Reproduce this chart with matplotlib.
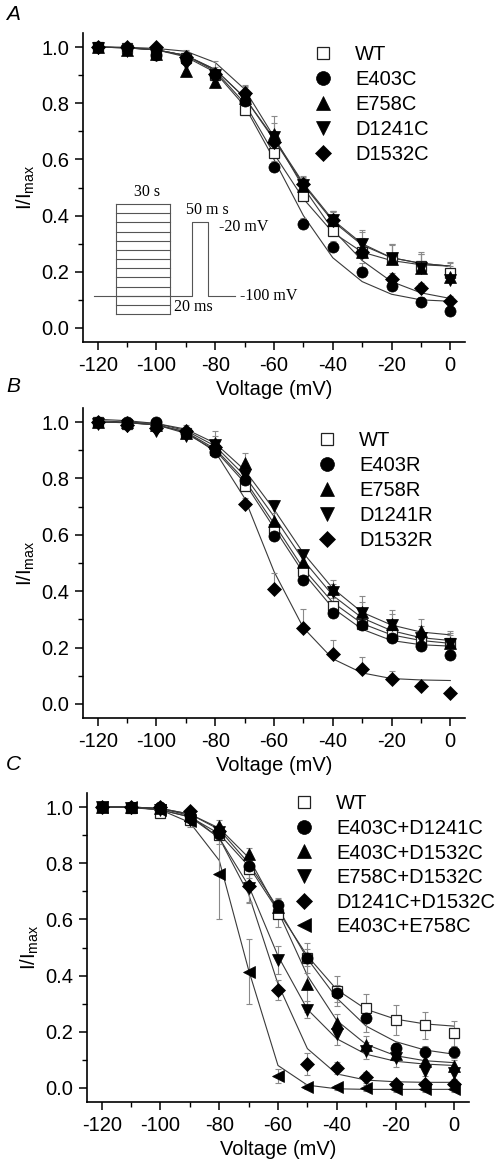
import numpy as np
import matplotlib
matplotlib.use("Agg")
import matplotlib.pyplot as plt
from matplotlib.ticker import MultipleLocator
from matplotlib.lines import Line2D

plt.rcParams['font.family'] = ['Liberation Sans', 'DejaVu Sans']
plt.rcParams['axes.unicode_minus'] = False

# ---------------- data ----------------
voltage = [-120, -110, -100, -90, -80, -70, -60, -50, -40, -30, -20, -10, 0]

# Panel A
a_labels = ["WT", "E403C", "E758C", "D1241C", "D1532C"]
a_wt = [1.0, 0.995, 0.98, 0.96, 0.90, 0.775, 0.622, 0.468, 0.346, 0.27, 0.25, 0.222, 0.195]
a_e403c = [1.0, 0.995, 0.97, 0.955, 0.90, 0.808, 0.573, 0.37, 0.289, 0.20, 0.148, 0.091, 0.059]
a_e758c = [1.0, 0.99, 0.975, 0.915, 0.877, 0.82, 0.69, 0.506, 0.384, 0.27, 0.245, 0.215, 0.18]
a_d1241c = [0.995, 0.985, 0.97, 0.94, 0.90, 0.815, 0.68, 0.51, 0.385, 0.30, 0.25, 0.215, 0.17]
a_d1532c = [1.0, 1.0, 1.0, 0.965, 0.903, 0.838, 0.662, 0.514, 0.385, 0.27, 0.174, 0.141, 0.095]
a_err_wt = [0.005, 0.005, 0.01, 0.03, 0.05, 0.03, 0.04, 0.06, 0.07, 0.07, 0.05, 0.05, 0.04]
a_err_e403c = [0.005, 0.01, 0.01, 0.02, 0.02, 0.02, 0.02, 0.02, 0.02, 0.03, 0.02, 0.02, 0.02]
a_err_e758c = [0.01, 0.01, 0.01, 0.02, 0.03, 0.04, 0.065, 0.03, 0.03, 0.05, 0.05, 0.05, 0.05]
a_err_d1241c = [0.01, 0.01, 0.01, 0.02, 0.03, 0.05, 0.05, 0.03, 0.03, 0.05, 0.05, 0.05, 0.05]
a_err_d1532c = [0.005, 0.005, 0.005, 0.02, 0.02, 0.02, 0.04, 0.02, 0.03, 0.03, 0.02, 0.02, 0.02]
a_fit_wt = [1.0, 0.998, 0.99, 0.97, 0.915, 0.80, 0.62, 0.46, 0.34, 0.27, 0.24, 0.225, 0.22]
a_fit_e403c = [1.0, 0.997, 0.99, 0.965, 0.91, 0.79, 0.60, 0.40, 0.25, 0.165, 0.12, 0.10, 0.095]
a_fit_e758c = [1.0, 0.997, 0.99, 0.97, 0.92, 0.82, 0.67, 0.51, 0.38, 0.295, 0.25, 0.23, 0.22]
a_fit_d1241c = [1.0, 0.997, 0.99, 0.97, 0.92, 0.82, 0.675, 0.515, 0.385, 0.30, 0.25, 0.23, 0.22]
a_fit_d1532c = [1.0, 0.999, 0.995, 0.985, 0.945, 0.85, 0.68, 0.50, 0.35, 0.24, 0.165, 0.125, 0.105]

# Panel B
b_labels = ["WT", "E403R", "E758R", "D1241R", "D1532R"]
b_wt = [1.0, 0.995, 0.99, 0.96, 0.90, 0.773, 0.619, 0.471, 0.347, 0.285, 0.245, 0.22, 0.215]
b_e403r = [1.0, 1.0, 1.0, 0.96, 0.895, 0.793, 0.595, 0.441, 0.323, 0.279, 0.234, 0.205, 0.173]
b_e758r = [1.0, 1.0, 0.99, 0.96, 0.927, 0.856, 0.649, 0.503, 0.406, 0.325, 0.284, 0.258, 0.217]
b_d1241r = [0.995, 0.985, 0.97, 0.95, 0.92, 0.814, 0.702, 0.527, 0.396, 0.323, 0.279, 0.235, 0.213]
b_d1532r = [1.0, 0.99, 0.98, 0.968, 0.91, 0.711, 0.406, 0.27, 0.178, 0.125, 0.09, 0.063, 0.039]
b_err_wt = [0.005, 0.01, 0.01, 0.02, 0.02, 0.02, 0.03, 0.03, 0.03, 0.03, 0.03, 0.03, 0.03]
b_err_e403r = [0.005, 0.005, 0.01, 0.01, 0.02, 0.02, 0.02, 0.02, 0.02, 0.02, 0.02, 0.02, 0.02]
b_err_e758r = [0.01, 0.01, 0.01, 0.02, 0.04, 0.035, 0.03, 0.03, 0.035, 0.057, 0.05, 0.044, 0.04]
b_err_d1241r = [0.01, 0.01, 0.01, 0.02, 0.03, 0.03, 0.02, 0.02, 0.03, 0.04, 0.04, 0.04, 0.04]
b_err_d1532r = [0.005, 0.01, 0.01, 0.02, 0.02, 0.02, 0.057, 0.068, 0.05, 0.041, 0.026, 0.01, 0.0]
b_fit_wt = [1.0, 0.999, 0.99, 0.965, 0.905, 0.795, 0.64, 0.48, 0.36, 0.285, 0.245, 0.225, 0.215]
b_fit_e403r = [1.0, 0.998, 0.99, 0.96, 0.90, 0.785, 0.625, 0.465, 0.34, 0.265, 0.225, 0.21, 0.205]
b_fit_e758r = [1.005, 1.0, 0.995, 0.97, 0.915, 0.81, 0.665, 0.51, 0.385, 0.305, 0.26, 0.235, 0.225]
b_fit_d1241r = [1.01, 1.005, 0.995, 0.975, 0.925, 0.83, 0.69, 0.535, 0.41, 0.325, 0.28, 0.255, 0.245]
b_fit_d1532r = [1.0, 0.998, 0.99, 0.965, 0.895, 0.73, 0.47, 0.27, 0.16, 0.11, 0.09, 0.085, 0.083]

# Panel C
c_labels = ["WT", "E403C+D1241C", "E403C+D1532C", "E758C+D1532C", "D1241C+D1532C", "E403C+E758C"]
c_wt = [1.0, 0.995, 0.979, 0.955, 0.90, 0.778, 0.618, 0.464, 0.346, 0.284, 0.243, 0.224, 0.194]
c_e403c_d1241c = [1.0, 1.0, 1.0, 0.97, 0.905, 0.789, 0.653, 0.464, 0.337, 0.249, 0.141, 0.129, 0.127]
c_e403c_d1532c = [1.0, 1.0, 0.995, 0.97, 0.934, 0.833, 0.645, 0.369, 0.233, 0.154, 0.12, 0.097, 0.079]
c_e758c_d1532c = [1.0, 0.995, 0.99, 0.955, 0.91, 0.712, 0.454, 0.278, 0.192, 0.133, 0.105, 0.062, 0.053]
c_d1241c_d1532c = [1.0, 1.0, 1.0, 0.987, 0.915, 0.718, 0.348, 0.085, 0.071, 0.038, 0.014, 0.014, 0.014]
c_e403c_e758c = [1.0, 1.0, 0.99, 0.95, 0.763, 0.414, 0.044, 0.005, 0.002, 0.0, -0.003, -0.004, -0.005]
c_err_wt = [0.005, 0.01, 0.01, 0.02, 0.03, 0.03, 0.045, 0.053, 0.053, 0.052, 0.053, 0.048, 0.043]
c_err_e403c_d1241c = [0.005, 0.005, 0.005, 0.02, 0.02, 0.02, 0.02, 0.03, 0.03, 0.05, 0.02, 0.02, 0.02]
c_err_e403c_d1532c = [0.005, 0.005, 0.005, 0.02, 0.02, 0.02, 0.03, 0.10, 0.03, 0.03, 0.02, 0.02, 0.02]
c_err_e758c_d1532c = [0.005, 0.005, 0.005, 0.02, 0.02, 0.05, 0.05, 0.03, 0.04, 0.03, 0.03, 0.02, 0.02]
c_err_d1241c_d1532c = [0.005, 0.005, 0.005, 0.01, 0.02, 0.06, 0.035, 0.04, 0.02, 0.02, 0.01, 0.01, 0.01]
c_err_e403c_e758c = [0.005, 0.005, 0.005, 0.02, 0.16, 0.116, 0.025, 0.01, 0.01, 0.01, 0.01, 0.01, 0.01]
c_fit_wt = [1.0, 0.998, 0.99, 0.965, 0.905, 0.79, 0.63, 0.47, 0.35, 0.28, 0.245, 0.228, 0.22]
c_fit_e403c_d1241c = [1.0, 1.0, 0.995, 0.975, 0.92, 0.80, 0.64, 0.46, 0.32, 0.22, 0.165, 0.135, 0.12]
c_fit_e403c_d1532c = [1.0, 1.0, 0.995, 0.975, 0.925, 0.82, 0.63, 0.40, 0.24, 0.155, 0.115, 0.097, 0.09]
c_fit_e758c_d1532c = [1.0, 1.0, 0.99, 0.965, 0.89, 0.72, 0.47, 0.28, 0.175, 0.12, 0.095, 0.085, 0.08]
c_fit_d1241c_d1532c = [1.0, 1.0, 0.995, 0.97, 0.89, 0.69, 0.37, 0.14, 0.05, 0.028, 0.022, 0.02, 0.02]
c_fit_e403c_e758c = [1.0, 1.0, 0.99, 0.945, 0.81, 0.42, 0.08, 0.01, -0.003, -0.005, -0.005, -0.005, -0.005]

x_ticks = [-120, -100, -80, -60, -40, -20, 0]
y_ticks = [0.0, 0.2, 0.4, 0.6, 0.8, 1.0]

# inset protocol schematic (axes fractions of panel A)
proto_box_x = [0.0864, 0.2277]
proto_box_levels = np.linspace(0.0906, 0.4466, 13)
proto_trace_x = [0.0288, 0.285, 0.285, 0.327, 0.327, 0.398]
proto_trace_y = [0.1489, 0.1489, 0.388, 0.388, 0.1489, 0.1489]

# ---------------- styling ----------------
MS = {'s': 7, 'o': 8, '^': 9, 'v': 9, 'D': 6.8, '<': 9}
MS_LEG = {'s': 8.5, 'o': 10, '^': 10.5, 'v': 10.5, 'D': 8, '<': 10.5}
FIT_COLOR = '#3a3a3a'
ERR_COLOR = '#8a8a8a'
FS = 14.5

fig = plt.figure(figsize=(4.96, 11.62), dpi=100)


def style_axes(ax):
    ax.set_xlim(-125, 5)
    ax.set_ylim(-0.05, 1.05)
    ax.spines['top'].set_visible(False)
    ax.spines['right'].set_visible(False)
    for s in ('left', 'bottom'):
        ax.spines[s].set_linewidth(1.2)
    ax.set_xticks(x_ticks)
    ax.set_yticks(y_ticks)
    ax.set_yticklabels([f"{v:.1f}" for v in y_ticks])
    ax.xaxis.set_minor_locator(MultipleLocator(10))
    ax.yaxis.set_minor_locator(MultipleLocator(0.1))
    ax.tick_params(which='major', direction='out', length=6, width=1.1, labelsize=FS, pad=4)
    ax.tick_params(which='minor', direction='out', length=3.5, width=1.0)
    ax.set_xlabel("Voltage (mV)", fontsize=FS, labelpad=4)
    ax.set_ylabel(r"I/I$_{\mathregular{max}}$", fontsize=FS, labelpad=3)


def draw_panel(ax, series, errs, fits, labels, markers, symmetric, loc_anchor, spacing):
    for fit in fits:
        ax.plot(voltage, fit, color=FIT_COLOR, lw=0.8, zorder=2)
    handles = []
    for y, e in zip(series, errs):
        e = np.array(e)
        lower = e if symmetric else np.zeros_like(e)
        ax.errorbar(voltage, y, yerr=[lower, e], fmt='none', ecolor=ERR_COLOR,
                    elinewidth=0.8, capsize=2.5, capthick=0.8, zorder=3)
    for y, m in zip(series, markers):
        if m == 's':
            ax.plot(voltage, y, ls='none', marker=m, ms=MS[m], mfc='white',
                    mec='#222222', mew=0.9, zorder=4)
            h = Line2D([], [], ls='none', marker=m, ms=MS_LEG[m], mfc='white', mec='#222222', mew=0.9)
        else:
            ax.plot(voltage, y, ls='none', marker=m, ms=MS[m], mfc='black',
                    mec='black', mew=0.5, zorder=5)
            h = Line2D([], [], ls='none', marker=m, ms=MS_LEG[m], mfc='black', mec='black', mew=0.5)
        handles.append(h)
    ax.legend(handles, labels, loc='upper left', bbox_to_anchor=loc_anchor,
              frameon=False, fontsize=FS, handlelength=1.0, handletextpad=1.1,
              labelspacing=spacing, borderpad=0, borderaxespad=0)


# Panel A
axA = fig.add_axes([83 / 496, 1 - 342 / 1162, 382 / 496, 309 / 1162])
style_axes(axA)
draw_panel(axA,
           [a_wt, a_e403c, a_e758c, a_d1241c, a_d1532c],
           [a_err_wt, a_err_e403c, a_err_e758c, a_err_d1241c, a_err_d1532c],
           [a_fit_wt, a_fit_e403c, a_fit_e758c, a_fit_d1241c, a_fit_d1532c],
           a_labels, ['s', 'o', '^', 'v', 'D'], False, (0.602, 0.962), 0.3)

# inset schematic
gc = '#555555'
for lvl in proto_box_levels:
    axA.plot(proto_box_x, [lvl, lvl], color=gc, lw=0.8, transform=axA.transAxes, zorder=1)
for xv in proto_box_x:
    axA.plot([xv, xv], [proto_box_levels[0], proto_box_levels[-1]], color=gc, lw=0.8,
             transform=axA.transAxes, zorder=1)
axA.plot(proto_trace_x, proto_trace_y, color=gc, lw=0.8, transform=axA.transAxes, zorder=1)
serif = ['Liberation Serif', 'DejaVu Serif']
tfs = 11.5
axA.text(0.168, 0.485, "30 s", transform=axA.transAxes, ha='center', va='center', fontsize=tfs, family=serif)
axA.text(0.27, 0.427, "50 m s", transform=axA.transAxes, ha='left', va='center', fontsize=tfs, family=serif)
axA.text(0.356, 0.372, "-20 mV", transform=axA.transAxes, ha='left', va='center', fontsize=tfs, family=serif)
axA.text(0.411, 0.149, "-100 mV", transform=axA.transAxes, ha='left', va='center', fontsize=tfs, family=serif)
axA.text(0.238, 0.113, "20 ms", transform=axA.transAxes, ha='left', va='center', fontsize=tfs, family=serif)

# Panel B
axB = fig.add_axes([83 / 496, 1 - 718 / 1162, 382 / 496, 310 / 1162])
style_axes(axB)
draw_panel(axB,
           [b_wt, b_e403r, b_e758r, b_d1241r, b_d1532r],
           [b_err_wt, b_err_e403r, b_err_e758r, b_err_d1241r, b_err_d1532r],
           [b_fit_wt, b_fit_e403r, b_fit_e758r, b_fit_d1241r, b_fit_d1532r],
           b_labels, ['s', 'o', '^', 'v', 'D'], False, (0.6126, 0.925), 0.3)

# Panel C
axC = fig.add_axes([87 / 496, 1 - 1102 / 1162, 382 / 496, 309 / 1162])
style_axes(axC)
draw_panel(axC,
           [c_wt, c_e403c_d1241c, c_e403c_d1532c, c_e758c_d1532c, c_d1241c_d1532c, c_e403c_e758c],
           [c_err_wt, c_err_e403c_d1241c, c_err_e403c_d1532c, c_err_e758c_d1532c,
            c_err_d1241c_d1532c, c_err_e403c_e758c],
           [c_fit_wt, c_fit_e403c_d1241c, c_fit_e403c_d1532c, c_fit_e758c_d1532c,
            c_fit_d1241c_d1532c, c_fit_e403c_e758c],
           c_labels, ['s', 'o', '^', 'v', 'D', '<'], True, (0.542, 0.996), 0.28)

# panel letters
for letter, ypix in (("A", 15), ("B", 387), ("C", 765)):
    fig.text(13 / 496, 1 - ypix / 1162, letter, ha='center', va='center',
             fontsize=15, style='italic')

fig.savefig("out.png", dpi=100)
